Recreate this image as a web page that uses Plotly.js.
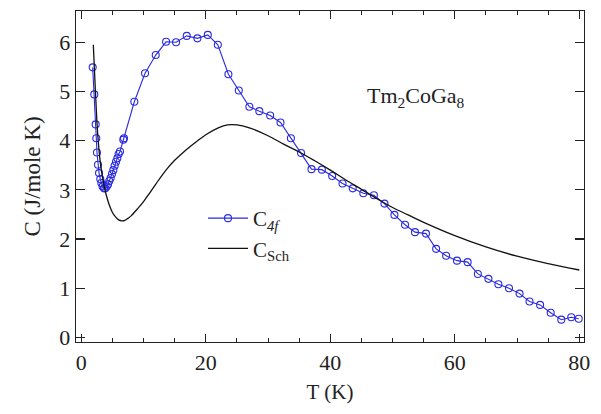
<!DOCTYPE html>
<html>
<head>
<meta charset="utf-8">
<script src="https://cdn.plot.ly/plotly-3.0.1.min.js"></script>
<style>html,body{margin:0;padding:0;background:#fff;}</style>
</head>
<body>
<div id="chart" style="width:601px;height:414px;"></div>
<script>
// C_4f measured data
const T4f = [1.83,2.09,2.31,2.41,2.52,2.68,2.85,3.05,3.22,3.43,3.65,3.86,4.08,4.29,4.50,4.72,4.93,5.15,5.36,5.58,5.79,6.00,6.22,6.75,6.86,8.52,10.24,11.96,13.62,15.22,16.94,18.65,20.32,21.93,23.63,25.30,27.00,28.60,30.34,32.00,33.67,35.30,36.98,38.65,40.30,41.96,43.60,45.30,47.00,48.70,50.30,52.00,53.60,55.37,57.00,58.60,60.35,62.06,63.70,65.40,67.00,68.70,70.40,72.00,73.70,75.40,77.10,78.70,79.90];
const C4f = [5.49,4.94,4.33,4.05,3.76,3.51,3.34,3.22,3.14,3.07,3.03,3.03,3.07,3.11,3.18,3.24,3.32,3.40,3.49,3.57,3.64,3.73,3.78,4.02,4.05,4.79,5.37,5.74,6.01,6.00,6.13,6.08,6.15,5.95,5.35,5.02,4.69,4.60,4.51,4.37,4.05,3.75,3.42,3.41,3.28,3.13,3.03,2.93,2.89,2.72,2.49,2.29,2.14,2.11,1.80,1.66,1.56,1.53,1.29,1.19,1.08,1.00,0.89,0.73,0.66,0.50,0.36,0.41,0.38];
// C_Sch curve
const TSch = [1.93,2.25,2.5,2.75,3.0,3.25,3.5,3.75,4.0,4.5,5,5.5,6,6.5,7,7.5,8,9,10,11,12,13,14,15,16,18,20,22,23.5,25,27,30,32.5,35,37.5,40,42.5,45,47.5,50,52.5,55,60,65,70,75,80];
const CSch = [5.95,5.05,4.40,3.95,3.62,3.38,3.19,3.03,2.90,2.69,2.54,2.45,2.39,2.37,2.38,2.42,2.47,2.61,2.76,2.94,3.12,3.30,3.46,3.60,3.72,3.93,4.12,4.26,4.32,4.32,4.26,4.10,3.93,3.77,3.59,3.40,3.20,3.01,2.82,2.64,2.49,2.34,2.07,1.84,1.65,1.50,1.37];
const xTicks = [0,20,40,60,80];
const yTicks = [0,1,2,3,4,5,6];

const serif = "Liberation Serif, Times New Roman, serif";
const ink = "#222";

const traces = [
  {x:T4f, y:C4f, type:'scatter', mode:'lines+markers', name:'C<sub><i>4f</i></sub>',
   line:{color:'#2a2ae0', width:1.1},
   marker:{symbol:'circle-open', size:7, color:'#2a2ae0', line:{width:1.1, color:'#2a2ae0'}}},
  {x:TSch, y:CSch, type:'scatter', mode:'lines', name:'C<sub>Sch</sub>',
   line:{color:'#111', width:1.3, shape:'spline'}}
];

const layout = {
  width:601, height:414,
  margin:{l:76, r:17, t:11, b:72},
  paper_bgcolor:'#fff', plot_bgcolor:'#fff',
  font:{family:serif, size:21, color:ink},
  showlegend:true,
  legend:{x:0.25, y:0.435, xanchor:'left', yanchor:'top', bgcolor:'rgba(0,0,0,0)',
          font:{family:serif, size:21, color:ink}, tracegroupgap:0, itemwidth:40},
  xaxis:{range:[-0.85,80.75], tickvals:xTicks, ticks:'inside', ticklen:8, tickwidth:1.2, tickcolor:ink,
         minor:{dtick:5, tick0:0, ticks:'inside', ticklen:4, tickwidth:1, tickcolor:ink},
         showline:true, linecolor:ink, linewidth:1.3, mirror:'allticks', showgrid:false, zeroline:false,
         tickfont:{family:serif, size:22, color:ink}, ticklabelstandoff:0,
         title:{text:'T (K)', font:{family:serif, size:21, color:ink}, standoff:10}},
  yaxis:{range:[-0.094,6.636], tickvals:yTicks, ticks:'inside', ticklen:9, tickwidth:1.2, tickcolor:ink,
         showline:true, linecolor:ink, linewidth:1.3, mirror:'allticks', showgrid:false, zeroline:false,
         tickfont:{family:serif, size:22, color:ink},
         title:{text:'C (J/mole K)', font:{family:serif, size:23, color:ink}, standoff:12}},
  annotations:[{x:53.8, y:4.89, xref:'x', yref:'y', text:'Tm<sub>2</sub>CoGa<sub>8</sub>', showarrow:false,
                font:{family:serif, size:22, color:ink}}]
};

Plotly.newPlot('chart', traces, layout, {displayModeBar:false, staticPlot:true});
</script>
</body>
</html>
